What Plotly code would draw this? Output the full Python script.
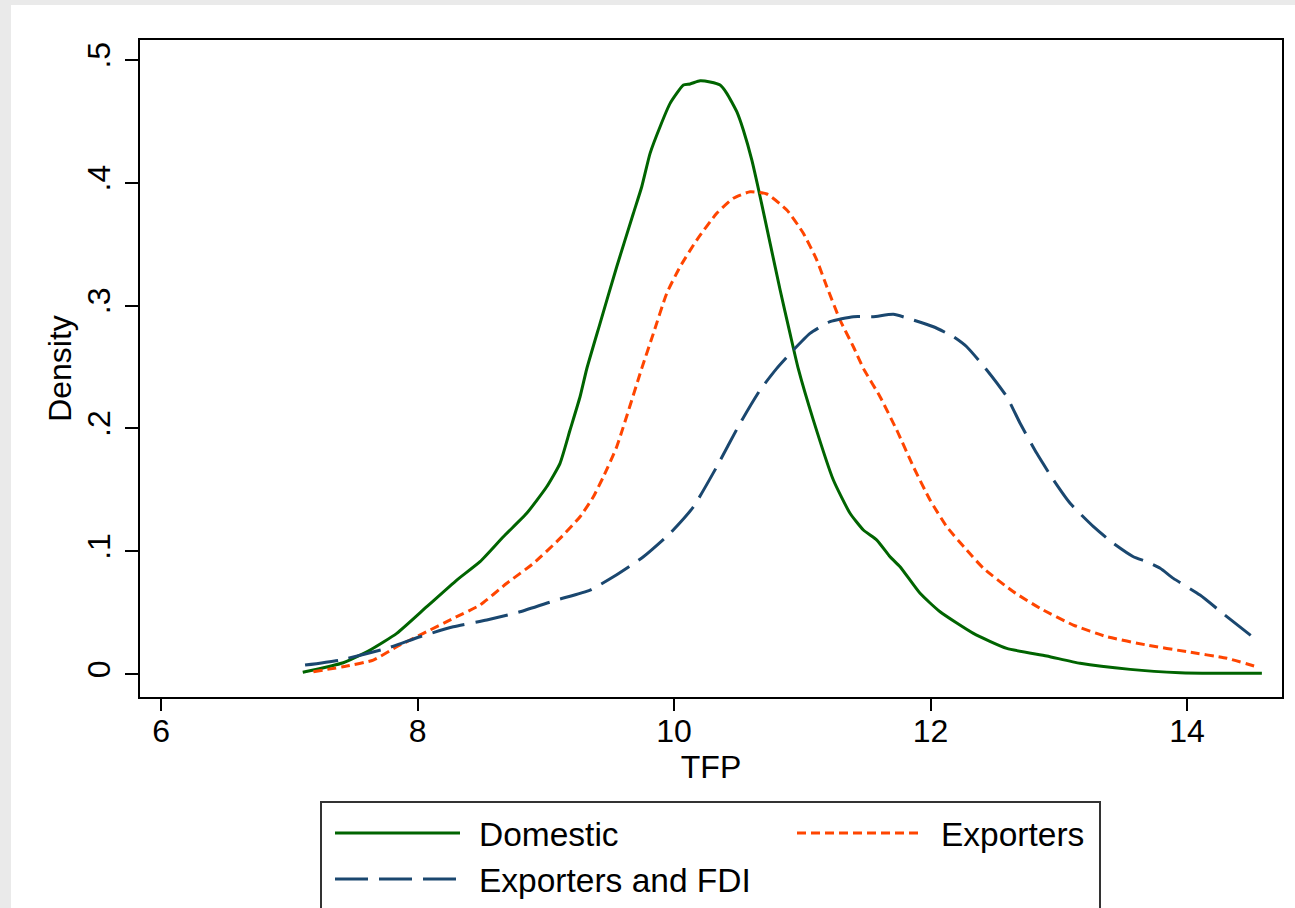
import plotly.graph_objects as go

# ---------------- data ----------------
dom_x = [7.105, 7.421, 7.630, 7.838, 8.072, 8.306, 8.487, 8.669, 8.851, 9.007, 9.111, 9.189,
         9.267, 9.319, 9.423, 9.553, 9.683, 9.748, 9.813, 9.891, 9.969, 10.073, 10.125, 10.203,
         10.281, 10.359, 10.411, 10.489, 10.540, 10.606, 10.671, 10.749, 10.827, 10.904, 10.969,
         11.086, 11.242, 11.372, 11.476, 11.581, 11.684, 11.762, 11.918, 12.074, 12.334, 12.594,
         12.906, 13.166, 13.556, 13.945, 14.205, 14.583]
dom_y = [0.0014, 0.0092, 0.0195, 0.0331, 0.0548, 0.0765, 0.0915, 0.1118, 0.1309, 0.1525, 0.1716, 0.1987,
         0.2258, 0.2484, 0.2856, 0.3317, 0.3752, 0.3968, 0.4240, 0.4457, 0.4647, 0.4796, 0.4805, 0.4831,
         0.4821, 0.4796, 0.4729, 0.4579, 0.4430, 0.4186, 0.3887, 0.3507, 0.3127, 0.2774, 0.2484,
         0.2068, 0.1580, 0.1309, 0.1173, 0.1091, 0.0955, 0.0874, 0.0657, 0.0507, 0.0331, 0.0209,
         0.0147, 0.0087, 0.0038, 0.0011, 0.0006, 0.0006]

exp_x = [7.188, 7.448, 7.655, 7.838, 8.045, 8.279, 8.487, 8.696, 8.903, 9.111, 9.267, 9.371,
         9.449, 9.553, 9.748, 9.839, 9.943, 10.047, 10.177, 10.333, 10.462, 10.593, 10.723, 10.879,
         11.008, 11.113, 11.191, 11.294, 11.398, 11.476, 11.606, 11.736, 11.866, 11.996, 12.126,
         12.282, 12.412, 12.646, 12.854, 13.113, 13.374, 13.686, 13.998, 14.310, 14.543]
exp_y = [0.0019, 0.0065, 0.0114, 0.0222, 0.0331, 0.0454, 0.0562, 0.0739, 0.0901, 0.1105, 0.1281, 0.1444,
         0.1607, 0.1851, 0.2489, 0.2774, 0.3100, 0.3317, 0.3534, 0.3752, 0.3874, 0.3927, 0.3909, 0.3779,
         0.3589, 0.3371, 0.3154, 0.2883, 0.2665, 0.2489, 0.2258, 0.1987, 0.1688, 0.1417, 0.1200,
         0.1010, 0.0861, 0.0670, 0.0535, 0.0399, 0.0304, 0.0236, 0.0182, 0.0128, 0.0059]

fdi_x = [7.123, 7.396, 7.760, 8.019, 8.279, 8.540, 8.799, 9.085, 9.345, 9.527, 9.761, 9.969,
         10.151, 10.333, 10.515, 10.671, 10.801, 10.930, 11.060, 11.216, 11.398, 11.554, 11.710,
         11.866, 12.022, 12.178, 12.282, 12.438, 12.594, 12.698, 12.828, 12.958, 13.088, 13.270,
         13.425, 13.581, 13.686, 13.790, 13.893, 14.101, 14.310, 14.509]
fdi_y = [0.0073, 0.0114, 0.0209, 0.0304, 0.0385, 0.0440, 0.0507, 0.0603, 0.0684, 0.0792, 0.0955, 0.1146,
         0.1362, 0.1688, 0.2042, 0.2313, 0.2489, 0.2638, 0.2774, 0.2869, 0.2910, 0.2910, 0.2929,
         0.2883, 0.2828, 0.2747, 0.2665, 0.2476, 0.2258, 0.2042, 0.1797, 0.1580, 0.1390, 0.1200,
         0.1064, 0.0955, 0.0914, 0.0861, 0.0779, 0.0643, 0.0467, 0.0304]

series_names = ["Domestic", "Exporters", "Exporters and FDI"]
x_ticks = [6, 8, 10, 12, 14]
y_ticks = [0, 0.1, 0.2, 0.3, 0.4, 0.5]
y_ticktext = ["0", ".1", ".2", ".3", ".4", ".5"]

# ---------------- styling ----------------
W, H = 1295, 908
L, R, T, B = 140, 1282, 40, 697          # plot-area pixel box
FONT = "Liberation Sans, Arial, Helvetica, sans-serif"
FS = 32
FS_LEG = 33.5
GREEN, ORANGE, NAVY = "#006400", "#FF4500", "#1A476F"
styles = [dict(color=GREEN, width=3, dash="solid"),
          dict(color=ORANGE, width=3, dash="9px,5px"),
          dict(color=NAVY, width=3, dash="33px,11px")]


def px_to_paper_x(p):
    return (p - L) / (R - L)


def px_to_paper_y(p):
    return (B - p) / (B - T)


fig = go.Figure()
for name, xs, ys, st in zip(series_names, [dom_x, exp_x, fdi_x], [dom_y, exp_y, fdi_y], styles):
    fig.add_trace(go.Scatter(x=xs, y=ys, mode="lines", name=name, showlegend=False,
                             line=dict(color=st["color"], width=st["width"], dash=st["dash"],
                                       shape="spline", smoothing=0.5)))

shapes = []
# grey outer strips (left and top)
shapes.append(dict(type="rect", xref="paper", yref="paper", layer="below",
                   x0=px_to_paper_x(-5), x1=px_to_paper_x(11), y0=px_to_paper_y(920), y1=px_to_paper_y(-5),
                   fillcolor="#EAEAEA", line=dict(width=0)))
shapes.append(dict(type="rect", xref="paper", yref="paper", layer="below",
                   x0=px_to_paper_x(-5), x1=px_to_paper_x(1300), y0=px_to_paper_y(5), y1=px_to_paper_y(-5),
                   fillcolor="#EAEAEA", line=dict(width=0)))
# legend box
shapes.append(dict(type="rect", xref="paper", yref="paper",
                   x0=px_to_paper_x(321), x1=px_to_paper_x(1100), y0=px_to_paper_y(930), y1=px_to_paper_y(802),
                   fillcolor="rgba(0,0,0,0)", line=dict(color="#333333", width=2)))

legend_items = [  # (sample x0, sample x1, y, text x)
    (335, 460, 833, 480),
    (797, 920, 833, 942),
    (335, 460, 879, 480),
]
annotations = []
for (sx0, sx1, sy, tx), name, st in zip(legend_items, series_names, styles):
    shapes.append(dict(type="line", xref="paper", yref="paper",
                       x0=px_to_paper_x(sx0), x1=px_to_paper_x(sx1),
                       y0=px_to_paper_y(sy), y1=px_to_paper_y(sy),
                       line=dict(color=st["color"], width=st["width"], dash=st["dash"])))
    annotations.append(dict(xref="paper", yref="paper", x=px_to_paper_x(tx - 3), y=px_to_paper_y(sy + 1),
                            text=name, showarrow=False, xanchor="left", yanchor="middle",
                            font=dict(family=FONT, size=FS_LEG, color="black")))

fig.update_layout(
    width=W, height=H, autosize=False,
    margin=dict(l=L, r=W - R, t=T, b=H - B, pad=0),
    paper_bgcolor="white", plot_bgcolor="white",
    font=dict(family=FONT, size=FS, color="black"),
    shapes=shapes, annotations=annotations,
    showlegend=False,
)
fig.update_xaxes(range=[5.836, 14.74], tickmode="array", tickvals=x_ticks,
                 ticklabelstandoff=-7,
                 ticks="outside", ticklen=12, tickwidth=1.5, tickcolor="black",
                 showline=True, mirror=True, linecolor="black", linewidth=2,
                 showgrid=False, zeroline=False, automargin=False,
                 tickfont=dict(family=FONT, size=FS, color="black"),
                 title=dict(text="TFP", font=dict(family=FONT, size=FS, color="black"), standoff=0))
fig.update_yaxes(range=[-0.0187, 0.5163], tickmode="array", tickvals=y_ticks, ticktext=y_ticktext,
                 tickangle=-90, ticklabelstandoff=2,
                 ticks="outside", ticklen=13, tickwidth=1.5, tickcolor="black",
                 showline=True, mirror=True, linecolor="black", linewidth=2,
                 showgrid=False, zeroline=False, automargin=False,
                 tickfont=dict(family=FONT, size=FS, color="black"),
                 title=dict(text="Density", font=dict(family=FONT, size=FS, color="black"), standoff=0))

# remove the default page margin so the figure sits at the window origin
fig.write_html("out.html",
               config={"displayModeBar": False},
               post_script="document.body.style.margin='0';document.body.style.overflow='hidden';")
